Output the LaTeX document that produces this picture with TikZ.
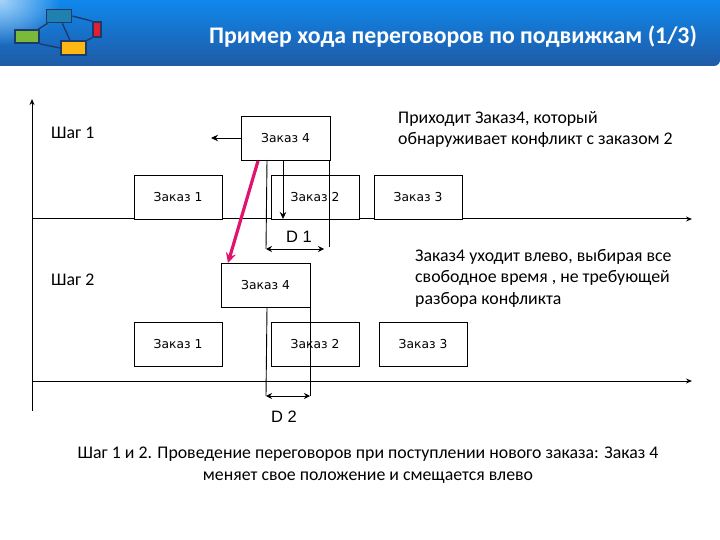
\documentclass[tikz,border=0pt]{standalone}
\usepackage{fontspec}
\setmainfont{Carlito}
\newfontfamily\boxfont{DejaVu Sans}
\newfontfamily\dimfont{Liberation Sans}
\usepackage{xcolor}
\usetikzlibrary{arrows.meta, positioning, fadings}
\definecolor{headtop}{HTML}{0F88EC}
\definecolor{headbot}{HTML}{1F5AA5}
\definecolor{headlight}{HTML}{A8D4F8}
\definecolor{logoline}{HTML}{1C3A6B}
\definecolor{logoblue}{HTML}{2080B0}
\definecolor{logogreen}{HTML}{7AB93A}
\definecolor{logoyellow}{HTML}{FDB813}
\definecolor{logored}{HTML}{E02030}
\definecolor{pinkarrow}{HTML}{E0146E}
\tikzfading[name=cornerfade, inner color=transparent!0, outer color=transparent!100]
\begin{document}
\begin{tikzpicture}[
  x=1pt, y=-1pt,
  order/.style={rectangle, draw, fill=white, line width=0.9pt, inner sep=0pt, minimum width=88pt,
              minimum height=44pt, align=center, font=\boxfont\fontsize{12.3}{14}\selectfont},
  logobox/.style={rectangle, draw=logoline, line width=1.8pt, inner sep=0pt},
  logoedge/.style={draw=logoline, line width=1.4pt},
  note/.style={inner sep=0pt, align=left, anchor=north west, font=\fontsize{17.8}{21.5}\selectfont},
  dimlabel/.style={inner sep=0pt, font=\dimfont\fontsize{16.5}{18}\selectfont},
  dimline/.style={line width=0.9pt},
  dimarrow/.style={{Stealth[length=6pt,width=6pt]}-{Stealth[length=6pt,width=6pt]}, line width=0.9pt},
  arrow/.style={-{Stealth[length=7pt,width=6.5pt]}, line width=0.9pt},
  axis/.style={-{Stealth[length=6pt,width=5pt]}, line width=1pt}
]
  \useasboundingbox (0,0) rectangle (720,540);
  % шапка
  \shade[top color=headtop, bottom color=headbot]
    (0,0) -- (720,0) -- (720,60) arc[start angle=0, end angle=90, radius=6pt, y radius=-6pt] -- (0,66) -- cycle;
  \fill[headlight, path fading=cornerfade] (-60,-45) rectangle (60,45);
  \node[font=\bfseries\fontsize{23.8}{26}\selectfont, text=white, inner sep=0pt] (title) at (453,37)
    {Пример хода переговоров по подвижкам (1/3)};
  % логотип
  \node[logobox, fill=logoblue, minimum width=25pt, minimum height=13pt] (logoa) at (59,16) {};
  \node[logobox, fill=logogreen, minimum width=24pt, minimum height=13pt] (logob) at (27,36.5) {};
  \node[logobox, fill=logoyellow, minimum width=25pt, minimum height=13.5pt] (logoc) at (73.5,48) {};
  \node[logobox, fill=logored, minimum width=8pt, minimum height=15pt] (logod) at (97,29.5) {};
  \draw[logoedge] (logoa) -- (logob);
  \draw[logoedge] (logoa) -- (logoc);
  \draw[logoedge] (logoa.east) -- (logod.north west);
  \draw[logoedge] (logob.south east) -- (logoc.west);
  \draw[logoedge] (logoc.north east) -- (logod.south west);
  % оси
  \coordinate (axisorigin) at (32,411);
  \coordinate (axistop) at (32,99);
  \draw[axis] (axisorigin) -- (axistop);
  \coordinate (axisaleft) at (32,219);
  \coordinate (axisaright) at (692,219);
  \draw[axis] (axisaleft) -- (axisaright);
  \coordinate (axisbleft) at (32,381);
  \coordinate (axisbright) at (692,381);
  \draw[axis] (axisbleft) -- (axisbright);
  % шаг 1
  \node[order] (ordera1) at (178,197) {Заказ 1};
  \node[order] (ordera2) at (315,197) {Заказ 2};
  \node[order] (ordera3) at (418,197) {Заказ 3};
  \node[order, minimum width=89pt] (ordera4) at (285.5,138) {Заказ 4};
  % шаг 2
  \node[order] (orderb1) at (178,344) {Заказ 1};
  \node[order] (orderb2) at (315,344) {Заказ 2};
  \node[order] (orderb3) at (423,344) {Заказ 3};
  \node[order, minimum width=89pt] (orderb4) at (265.5,285) {Заказ 4};
  % размеры
  \coordinate (leftmark) at (211,138);
  \draw[arrow] (ordera4.west) -- (leftmark);
  \coordinate (downfrom) at (283,160);
  \coordinate (downto) at (283,219);
  \draw[arrow] (downfrom) -- (downto);
  \coordinate (da1) at (267,160);
  \coordinate (da2) at (266,249);
  \coordinate (db1) at (329,160);
  \coordinate (db2) at (329,247);
  \coordinate (db3) at (324,249);
  \draw[dimline] (da1) -- (da2);
  \draw[dimline] (db1) -- (db2);
  \draw[dimarrow] (da2) -- (db3);
  \node[dimlabel] (labelda) at (299,237) {D 1};
  \coordinate (dc1) at (267,307);
  \coordinate (dc2) at (266,396);
  \coordinate (dd1) at (310,307);
  \coordinate (dd2) at (310,396);
  \draw[dimline] (dc1) -- (dc2);
  \draw[dimline] (dd1) -- (dd2);
  \draw[dimarrow] (dc2) -- (dd2);
  \node[dimlabel] (labeldb) at (284,417) {D 2};
  % перемещение
  \coordinate (pinkfrom) at (258,161);
  \coordinate (pinkto) at (228,263);
  \draw[-{Stealth[length=10pt,width=10pt]}, pinkarrow, line width=3.2pt] (pinkfrom) -- (pinkto);
  % подписи
  \node[note] (stepa) at (51,127) {Шаг 1};
  \node[note] (stepb) at (51,274) {Шаг 2};
  \node[note] (notea) at (398,111) {Приходит Заказ4, который\\обнаруживает конфликт с заказом 2};
  \node[note] (noteb) at (415,249) {Заказ4 уходит влево, выбирая все\\свободное время , не требующей\\разбора конфликта};
  \node[note, align=center, anchor=north] (summary) at (368,447) {Шаг 1 и 2. Проведение переговоров при поступлении нового заказа: Заказ 4\\меняет свое положение и смещается влево};
\end{tikzpicture}
\end{document}
